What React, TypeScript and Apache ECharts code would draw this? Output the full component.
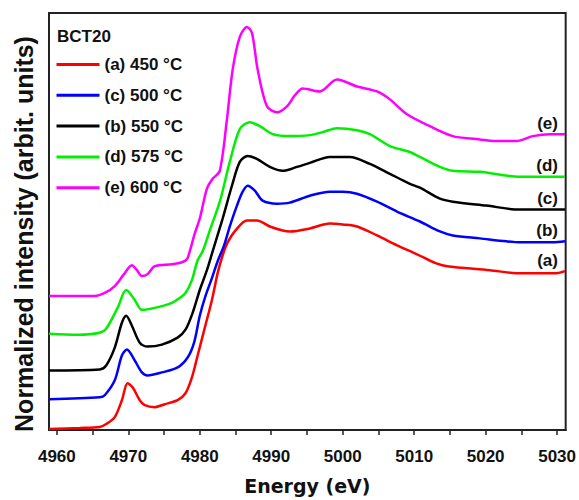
import React, { useEffect, useRef } from "react";
import * as echarts from "echarts";

const seriesNames = ["(a) 450 °C", "(c) 500 °C", "(b) 550 °C", "(d) 575 °C", "(e) 600 °C"];
const endTags = ["(a)", "(b)", "(c)", "(d)", "(e)"];
const colors = ["#ff0000", "#0000ff", "#000000", "#00f000", "#ff00ff"];
const tickValues = [4960, 4965, 4970, 4975, 4980, 4985, 4990, 4995, 5000, 5005, 5010, 5015, 5020, 5025, 5030];
const labelValues = [4960, 4970, 4980, 4990, 5000, 5010, 5020, 5030];

const curveA = [
  [4958.9, 0.01], [4963.2, 0.02], [4966.0, 0.03], [4966.9, 0.06], [4968.1, 0.13], [4969.1, 0.30],
  [4969.9, 0.47], [4970.6, 0.43], [4971.6, 0.30], [4972.3, 0.25], [4973.7, 0.23], [4975.1, 0.26],
  [4976.9, 0.30], [4978.0, 0.37], [4978.9, 0.53], [4979.7, 0.75], [4980.7, 1.03], [4981.7, 1.31],
  [4982.5, 1.58], [4983.2, 1.76], [4983.9, 1.89], [4985.0, 2.01], [4986.6, 2.11], [4988.0, 2.11],
  [4989.8, 2.05], [4991.6, 2.01], [4992.6, 2.0], [4995.4, 2.03], [4998.2, 2.08], [5000.0, 2.07],
  [5002.0, 2.05], [5004.8, 1.96], [5007.6, 1.86], [5010.4, 1.77], [5013.0, 1.68], [5014.6, 1.65],
  [5020.6, 1.61], [5024.3, 1.58], [5029.9, 1.58], [5031.1, 1.6],
];
const curveB = [
  [4958.9, 0.31], [4966.0, 0.33], [4966.7, 0.35], [4968.1, 0.5], [4969.1, 0.75], [4969.8, 0.81],
  [4970.9, 0.7], [4971.9, 0.58], [4972.7, 0.55], [4974.7, 0.58], [4976.9, 0.63], [4978.3, 0.73],
  [4979.2, 0.88], [4980.0, 1.15], [4980.8, 1.35], [4981.7, 1.53], [4982.5, 1.7], [4983.4, 1.86],
  [4984.2, 2.05], [4985.2, 2.26], [4986.0, 2.4], [4986.7, 2.46], [4987.7, 2.41], [4988.8, 2.31],
  [4990.8, 2.28], [4992.6, 2.29], [4995.4, 2.36], [4998.2, 2.4], [5000.0, 2.4], [5002.0, 2.38],
  [5004.8, 2.3], [5007.6, 2.2], [5010.8, 2.1], [5013.6, 2.0], [5015.4, 1.96], [5019.2, 1.93],
  [5022.9, 1.9], [5024.8, 1.89], [5029.4, 1.89], [5031.1, 1.9],
];
const curveC = [
  [4958.9, 0.6], [4966.0, 0.61], [4966.9, 0.65], [4968.1, 0.83], [4969.1, 1.08], [4969.7, 1.15],
  [4970.5, 1.05], [4971.6, 0.88], [4972.7, 0.84], [4974.7, 0.86], [4976.9, 0.93], [4978.0, 1.01],
  [4979.0, 1.18], [4980.0, 1.41], [4981.0, 1.61], [4981.8, 1.8], [4983.2, 2.13], [4984.5, 2.46],
  [4985.6, 2.7], [4986.7, 2.76], [4988.0, 2.73], [4989.8, 2.65], [4991.6, 2.61], [4993.6, 2.65],
  [4995.4, 2.69], [4998.2, 2.75], [5001.0, 2.75], [5003.8, 2.68], [5006.6, 2.58], [5009.4, 2.48],
  [5010.8, 2.44], [5013.6, 2.33], [5015.4, 2.3], [5020.1, 2.26], [5024.8, 2.22], [5031.1, 2.22],
];
const curveD = [
  [4958.9, 0.97], [4962.9, 0.96], [4966.0, 0.98], [4966.9, 1.02], [4968.5, 1.23], [4969.7, 1.41],
  [4970.9, 1.31], [4971.9, 1.21], [4973.7, 1.23], [4976.1, 1.28], [4977.2, 1.33], [4978.0, 1.38],
  [4978.9, 1.51], [4979.7, 1.71], [4980.4, 1.8], [4981.5, 2.03], [4982.8, 2.3], [4984.2, 2.7],
  [4985.6, 3.03], [4987.0, 3.1], [4988.4, 3.06], [4990.2, 2.98], [4992.6, 2.96], [4995.4, 2.97],
  [4997.2, 3.0], [4999.2, 3.04], [5002.0, 3.02], [5003.8, 2.98], [5006.6, 2.86], [5009.4, 2.8],
  [5010.8, 2.75], [5013.6, 2.65], [5015.4, 2.61], [5019.2, 2.6], [5024.8, 2.55], [5031.1, 2.55],
];
const curveE = [
  [4958.9, 1.35], [4965.3, 1.35], [4966.7, 1.38], [4968.1, 1.45], [4969.4, 1.57], [4970.5, 1.66],
  [4971.2, 1.61], [4971.9, 1.55], [4972.7, 1.57], [4973.7, 1.65], [4976.1, 1.67], [4977.5, 1.69],
  [4978.2, 1.72], [4978.6, 1.8], [4979.3, 1.98], [4980.0, 2.13], [4981.0, 2.43], [4981.8, 2.53],
  [4982.8, 2.61], [4983.8, 3.13], [4984.6, 3.63], [4985.6, 3.96], [4986.6, 4.06], [4987.3, 4.0],
  [4988.1, 3.63], [4989.4, 3.26], [4990.8, 3.2], [4992.2, 3.26], [4993.3, 3.37], [4994.4, 3.44],
  [4996.8, 3.41], [4999.2, 3.53], [5002.0, 3.46], [5004.8, 3.41], [5006.6, 3.33], [5009.0, 3.18],
  [5012.2, 3.06], [5015.4, 2.96], [5018.7, 2.93], [5021.5, 2.91], [5024.3, 2.91], [5026.6, 2.96],
  [5029.0, 2.98], [5031.1, 2.98],
];
const curves = [curveA, curveB, curveC, curveD, curveE];

const FONT = "'Liberation Sans', Arial, sans-serif";

export default function App() {
  const ref = useRef<HTMLDivElement>(null);
  useEffect(() => {
    if (!ref.current) return;
    const chart = echarts.init(ref.current, null, { renderer: "svg" });
    chart.setOption({
      animation: false,
      backgroundColor: "#ffffff",
      grid: {
        left: 49, right: 13, top: 13, bottom: 67,
        show: true, borderColor: "#222", borderWidth: 2,
      },
      legend: {
        orient: "vertical",
        left: 55,
        top: 56,
        padding: 0,
        itemWidth: 43,
        itemHeight: 14,
        itemGap: 13.8,
        data: seriesNames,
        itemStyle: { opacity: 0 },
        lineStyle: { width: 3 },
        textStyle: { fontFamily: FONT, fontWeight: "bold", fontSize: 17, color: "#111" },
      },
      xAxis: {
        type: "value",
        min: 4958.9,
        max: 5031.2,
        name: "Energy (eV)",
        nameLocation: "middle",
        nameGap: 46,
        nameTextStyle: { fontFamily: "'DejaVu Sans', sans-serif", fontWeight: "bold", fontSize: 19, color: "#111" },
        axisLine: { show: true, lineStyle: { color: "#222", width: 2 } },
        axisTick: { show: true, length: 5, customValues: tickValues, lineStyle: { color: "#222", width: 1.5 } },
        axisLabel: {
          customValues: labelValues,
          margin: 18,
          formatter: (v: number) => String(Math.round(v)),
          fontFamily: FONT, fontWeight: "bold", fontSize: 17, color: "#111",
        },
        splitLine: { show: false },
      },
      yAxis: {
        type: "value",
        min: 0,
        max: 4.2,
        axisLine: { show: false },
        axisTick: { show: false },
        axisLabel: { show: false },
        splitLine: { show: false },
      },
      graphic: [
        {
          type: "text",
          left: 57,
          top: 28,
          style: { text: "BCT20", fontFamily: FONT, fontWeight: "bold", fontSize: 17, fill: "#111" },
        },
        {
          type: "text",
          x: 24,
          y: 234,
          rotation: Math.PI / 2,
          style: {
            text: "Normalized intensity (arbit. units)",
            fontFamily: FONT,
            fontWeight: "bold",
            fontSize: 25,
            fill: "#111",
            textAlign: "center",
            textVerticalAlign: "middle",
          },
        },
      ],
      series: curves.map((d, i) => ({
        name: seriesNames[i],
        type: "line",
        data: d,
        smooth: 0.3,
        symbol: "none",
        color: colors[i],
        lineStyle: { color: colors[i], width: 2.5 },
        endLabel: {
          show: true,
          formatter: endTags[i],
          align: "right",
          distance: 0,
          offset: [-7, -11],
          fontFamily: FONT,
          fontWeight: "bold",
          fontSize: 17,
          color: "#111",
        },
      })),
    });
    return () => chart.dispose();
  }, []);
  return (
    <div
      ref={ref}
      style={{ position: "fixed", left: 0, top: 0, width: 579, height: 500, background: "#fff" }}
    />
  );
}
